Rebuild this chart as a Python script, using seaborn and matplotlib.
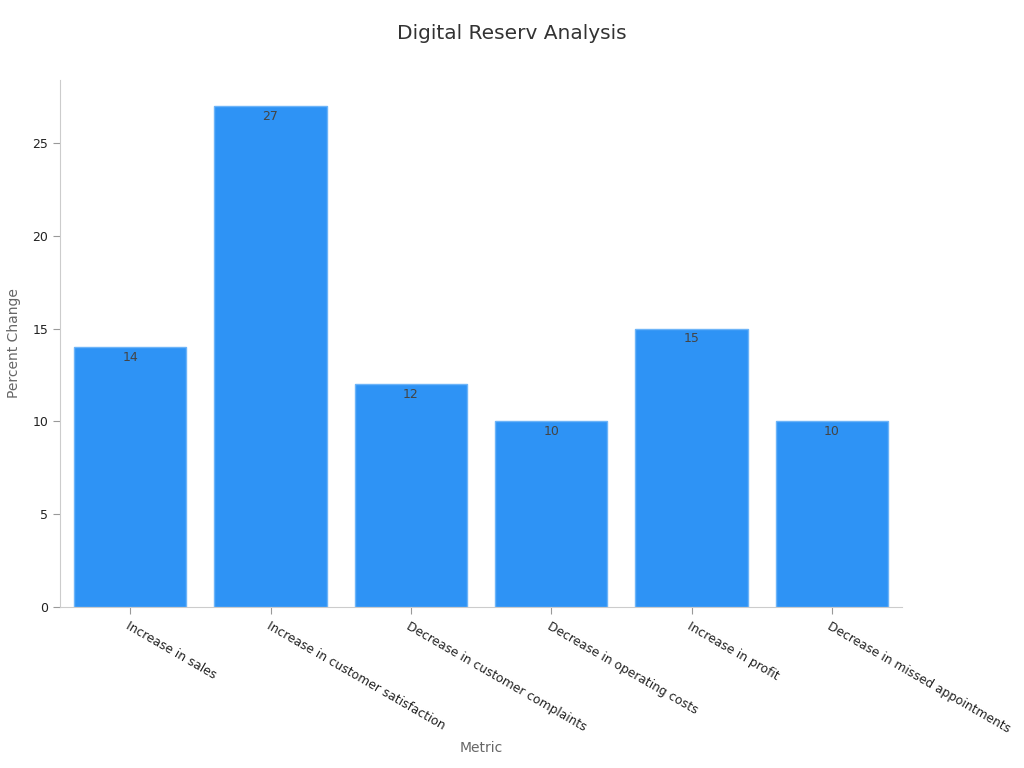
import matplotlib
matplotlib.use("Agg")
import matplotlib.pyplot as plt
import seaborn as sns
import pandas as pd

# chart values
metrics = [
    "Increase in sales",
    "Increase in customer satisfaction",
    "Decrease in customer complaints",
    "Decrease in operating costs",
    "Increase in profit",
    "Decrease in missed appointments",
]
percent_change = [14, 27, 12, 10, 15, 10]

df = pd.DataFrame({"Metric": metrics, "Percent Change": percent_change})

sns.set_style("white")
plt.rcParams["font.family"] = ["DejaVu Sans"]

fig = plt.figure(figsize=(10.24, 7.68), dpi=100)
ax = fig.add_axes([0.0586, 0.2096, 0.8223, 0.6862])

sns.barplot(data=df, x="Metric", y="Percent Change", color="#2E93F5",
            edgecolor="#6DB4F8", linewidth=1, width=0.8, saturation=1, ax=ax)

# value labels inside the top of each bar
for i, v in enumerate(percent_change):
    ax.text(i, v - 0.2, str(v), ha="center", va="top", fontsize=9, color="#444444")

ax.set_xlim(-0.5, 5.5)
ax.set_ylim(0, 28.4)
ax.set_yticks([0, 5, 10, 15, 20, 25])

fig.suptitle("Digital Reserv Analysis", x=0.5, y=0.969, fontsize=14.5, color="#333333")
ax.set_xlabel("Metric", fontsize=10, color="#666666", labelpad=4)
ax.set_ylabel("Percent Change", fontsize=10, color="#666666", labelpad=8)

plt.setp(ax.get_xticklabels(), rotation=-30, ha="left", rotation_mode="anchor",
         fontsize=8.8, color="#222222")
plt.setp(ax.get_yticklabels(), fontsize=9, color="#222222")
ax.tick_params(axis="both", length=5, color="#999999", bottom=True, left=True)
ax.tick_params(axis="x", pad=4)

for s in ["top", "right"]:
    ax.spines[s].set_visible(False)
for s in ["left", "bottom"]:
    ax.spines[s].set_color("#cccccc")

fig.savefig("out.png", dpi=100)
